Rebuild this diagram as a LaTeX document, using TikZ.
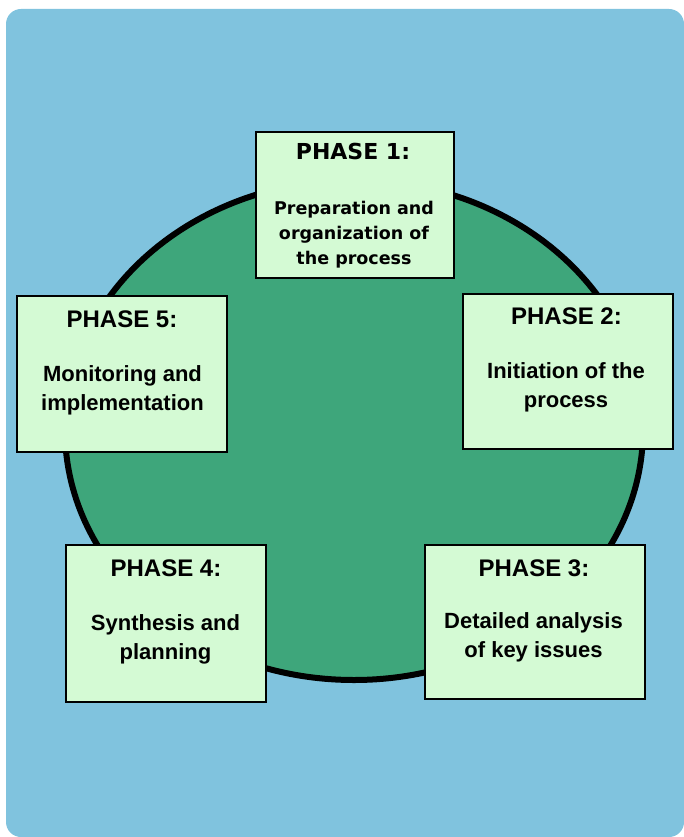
\documentclass[tikz,border=0pt]{standalone}
\usepackage{fontspec}
\setmainfont{Liberation Sans}
\newfontfamily\verd{DejaVu Sans}
\definecolor{bgblue}{RGB}{128,195,222}
\definecolor{discgreen}{RGB}{62,166,123}
\definecolor{boxfill}{RGB}{212,250,212}
\tikzset{
  phasebox/.style={draw=black, line width=2pt, fill=boxfill, rectangle, inner sep=0pt},
  ttl/.style={inner sep=0pt, anchor=base, font=\bfseries\fontsize{24}{29}\selectfont},
  bodytxt/.style={inner sep=0pt, anchor=north, align=center, font=\bfseries\fontsize{22}{29}\selectfont},
  vttl/.style={inner sep=0pt, anchor=base, font=\verd\bfseries\fontsize{22}{26}\selectfont},
  vbody/.style={inner sep=0pt, anchor=north, align=center, font=\verd\bfseries\fontsize{17.5}{25}\selectfont},
}
\begin{document}
\begin{tikzpicture}[x=1pt, y=-1pt]
\useasboundingbox (0,0) rectangle (684,837);
\fill[bgblue, rounded corners=15pt] (6,9) rectangle (684,837);
\draw[line width=6pt, fill=discgreen] (354,430) ellipse [x radius=289pt, y radius=250pt];

% Phase 1
\node[phasebox, minimum width=198pt, minimum height=146pt] (p1) at (355,205) {};
\node[vttl] (p1t) at (353,160) {PHASE 1:};
\node[vbody] (p1b) at (354,200.7) {Preparation and\\organization of\\the process};

% Phase 2
\node[phasebox, minimum width=210pt, minimum height=155pt] (p2) at (568,371.5) {};
\node[ttl] (p2t) at (566.5,324) {PHASE 2:};
\node[bodytxt] (p2b) at (566,362.2) {Initiation of the\\process};

% Phase 3
\node[phasebox, minimum width=220pt, minimum height=154pt] (p3) at (535,622) {};
\node[ttl] (p3t) at (534,576) {PHASE 3:};
\node[bodytxt] (p3b) at (533.5,612.2) {Detailed analysis\\of key issues};

% Phase 4
\node[phasebox, minimum width=200pt, minimum height=157pt] (p4) at (166,623.5) {};
\node[ttl] (p4t) at (166,576) {PHASE 4:};
\node[bodytxt] (p4b) at (165.5,614.2) {Synthesis and\\planning};

% Phase 5
\node[phasebox, minimum width=210pt, minimum height=156pt] (p5) at (122,374) {};
\node[ttl] (p5t) at (122,327) {PHASE 5:};
\node[bodytxt] (p5b) at (122.5,365.2) {Monitoring and\\implementation};
\end{tikzpicture}
\end{document}
